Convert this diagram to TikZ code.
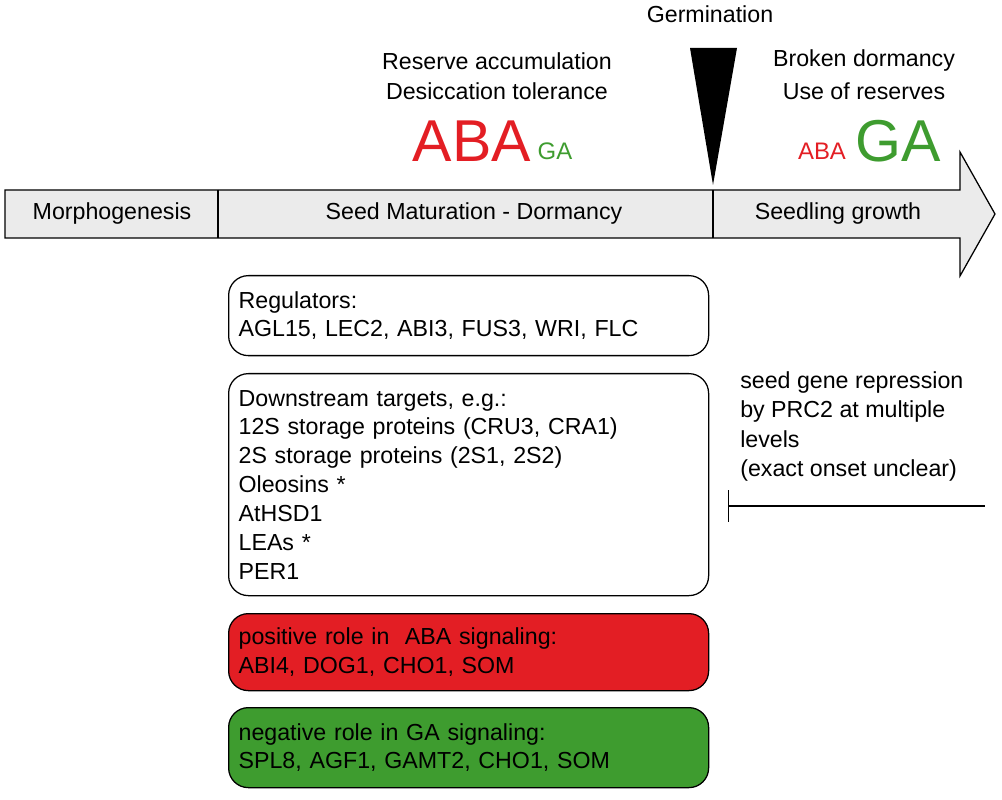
\documentclass[tikz,border=0pt]{standalone}
\usepackage{fontspec}
\setmainfont{Liberation Sans}
\usetikzlibrary{positioning,arrows.meta}
\definecolor{abared}{HTML}{E31E24}
\definecolor{gagreen}{HTML}{3E9C2F}
\definecolor{bargray}{HTML}{EBEBEB}
\begin{document}
\begin{tikzpicture}[
	x=0.025cm, y=-0.025cm,
	txt/.style={font=\fontsize{16.5}{20.5}\selectfont, inner sep=0pt},
	stage/.style={txt, anchor=center},
	gbox/.style={draw, rounded corners=14pt, line width=0.9pt, minimum width=480*0.025cm,
		text width=460*0.025cm, align=left, anchor=north west, inner xsep=10*0.025cm, inner ysep=6pt,
		font=\fontsize{16.5}{20.5}\selectfont},
	big/.style={font=\fontsize{42}{42}\selectfont, inner sep=0pt},
	small/.style={font=\fontsize{17}{17}\selectfont, inner sep=0pt},
	>=Stealth
	]
	\useasboundingbox (0,0) rectangle (1002,800);
	
	%-----------------------
	% Time axis
	%-----------------------
	\draw[fill=bargray, line width=0.9pt] (5,190) -- (960,190) -- (960,152) -- (995,214)
		-- (960,276) -- (960,238) -- (5,238) -- cycle;
	\draw[line width=0.9pt] (218,190) -- (218,238);
	\draw[line width=0.9pt] (713,190) -- (713,238);
	\node[stage] (morph) at (112,214) {Morphogenesis};
	\node[stage] (mat) at (474,214) {Seed Maturation - Dormancy};
	\node[stage] (seedl) at (838,214) {Seedling growth};
	
	%-----------------------
	% Germination marker
	%-----------------------
	\fill (690,48) -- (737,48) -- (713,185) -- cycle;
	\node[stage] (germ) at (710,14) {Germination};
	
	%-----------------------
	% Hormone balance
	%-----------------------
	\node[stage] (res) at (497,61) {Reserve accumulation};
	\node[stage] (des) at (497,91) {Desiccation tolerance};
	\node[big, text=abared] (ABAhi) at (472,141) {ABA};
	\node[small, text=gagreen] (GAlo) at (555,151) {GA};
	
	\node[stage] (brk) at (864,61) {Broken dormancy};
	\node[stage] (use) at (864,91) {Use of reserves};
	\node[small, text=abared] (ABAlo) at (822,151) {ABA};
	\node[big, text=gagreen] (GAhi) at (898,141) {GA};
	
	%-----------------------
	% Gene boxes
	%-----------------------
	\node[gbox, minimum height=80*0.025cm] (reg) at (228,275)
		{Regulators:\\AGL15, LEC2, ABI3, FUS3, WRI, FLC};
	\node[gbox, minimum height=222*0.025cm] (tgt) at (228,373)
		{Downstream targets, e.g.:\\12S storage proteins (CRU3, CRA1)\\2S storage proteins (2S1, 2S2)\\Oleosins *\\AtHSD1\\LEAs *\\PER1};
	\node[gbox, fill=abared, minimum height=77*0.025cm] (pos) at (228,613)
		{positive role in\ \ ABA signaling:\\ABI4, DOG1, CHO1, SOM};
	\node[gbox, fill=gagreen, minimum height=80*0.025cm] (neg) at (228,707)
		{negative role in GA signaling:\\SPL8, AGF1, GAMT2, CHO1, SOM};
	
	%-----------------------
	% PRC2 repression
	%-----------------------
	\node[txt, anchor=north west, align=left, font=\fontsize{16.5}{21}\selectfont] (prc) at (740,371)
		{seed gene repression\\by PRC2 at multiple\\levels\\(exact onset unclear)};
	\coordinate (repA) at (728,506);
	\coordinate (repB) at (985,506);
	\draw[{Bar[width=32*0.025cm]}-, line width=0.9pt] (repA) -- (repB);
	
\end{tikzpicture}
\end{document}
